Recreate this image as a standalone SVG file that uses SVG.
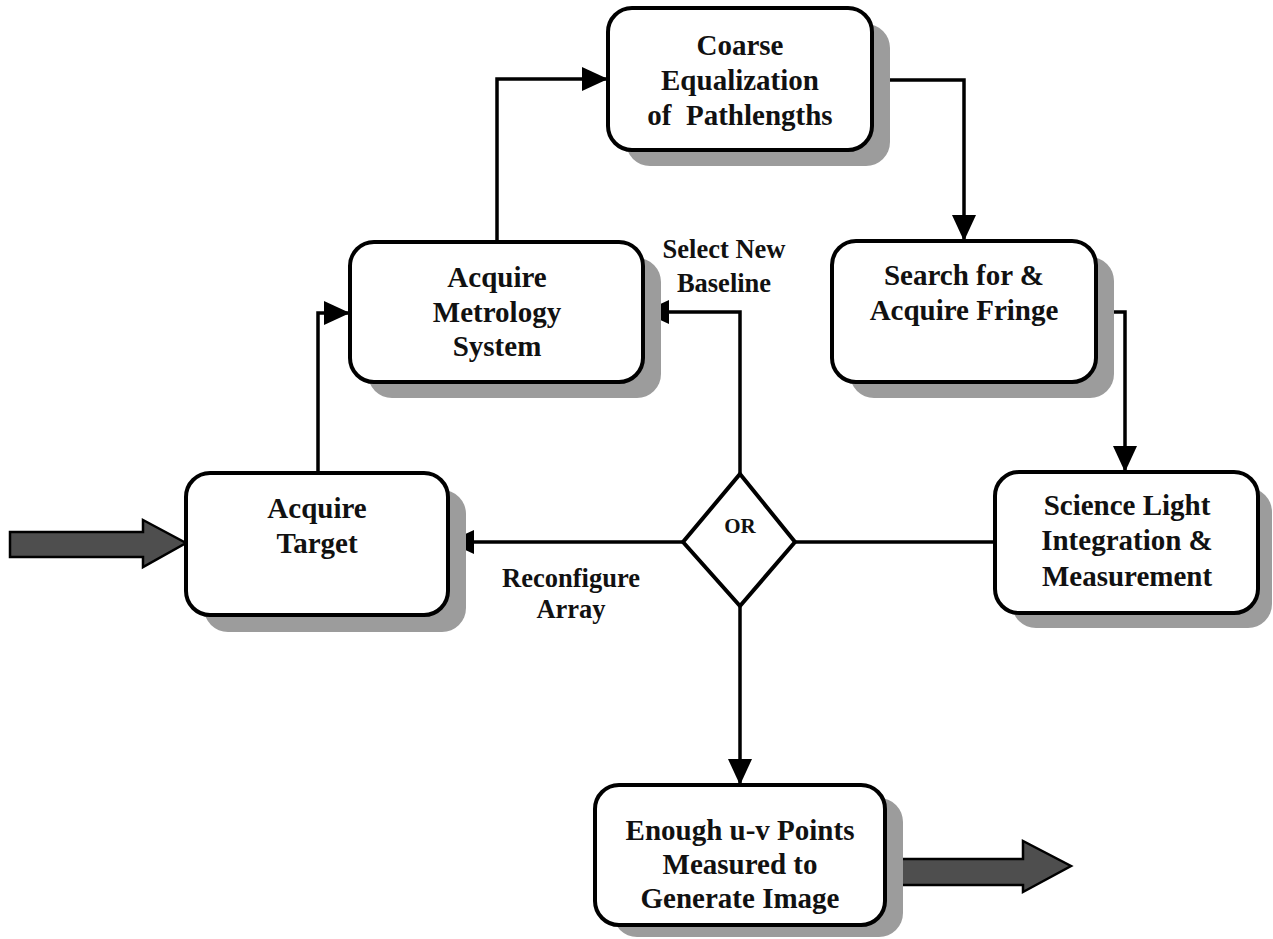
<svg xmlns="http://www.w3.org/2000/svg" width="1273" height="939" viewBox="0 0 1273 939">
  <style>
    .shadow { fill: #9c9c9c; }
    .box { fill: #ffffff; stroke: #000000; stroke-width: 4; }
    .wire { fill: none; stroke: #000000; stroke-width: 3.5; }
    .fat { fill: #4e4e4e; stroke: #000000; stroke-width: 2.5; stroke-linejoin: miter; }
    text { font-family: "Liberation Serif", "Times New Roman", serif; font-weight: bold; fill: #111111; text-anchor: middle; }
    .t { font-size: 29px; }
    .lbl { font-size: 26.5px; }
    .or { font-size: 21px; }
  </style>
  <defs>
    <marker id="head" viewBox="0 0 26 24" refX="26" refY="12" markerWidth="26" markerHeight="24" markerUnits="userSpaceOnUse" orient="auto">
      <path d="M0,0 L26,12 L0,24 Z" fill="#000000"/>
    </marker>
  </defs>

  <!-- connectors -->
  <g id="connectors">
    <!-- in / out block arrows -->
    <path class="fat" d="M10,532 L143,532 L143,520 L186,543 L143,567 L143,557 L10,557 Z"/>
    <path class="fat" d="M892,859 L1023,859 L1023,841 L1071,866 L1023,892 L1023,885 L892,885 Z"/>
    <!-- Acquire Target -> Metrology -->
    <path class="wire" d="M318,473 L318,313 L350,313" marker-end="url(#head)"/>
    <!-- Metrology -> Coarse -->
    <path class="wire" d="M497,242 L497,79 L608,79" marker-end="url(#head)"/>
    <!-- Coarse -> Search -->
    <path class="wire" d="M872,80 L964,80 L964,241" marker-end="url(#head)"/>
    <!-- Search -> Science -->
    <path class="wire" d="M1096,312 L1125,312 L1125,472" marker-end="url(#head)"/>
    <!-- Science -> OR -->
    <path class="wire" d="M995,542 L795,542"/>
    <!-- OR -> Target -->
    <path class="wire" d="M683,542 L448,542" marker-end="url(#head)"/>
    <!-- OR -> Metrology -->
    <path class="wire" d="M740,474 L740,312 L643,312" marker-end="url(#head)"/>
    <!-- OR -> Enough -->
    <path class="wire" d="M740,606 L740,785" marker-end="url(#head)"/>
    <text class="lbl" x="724" y="258">Select New</text>
    <text class="lbl" x="724" y="292">Baseline</text>
    <text class="lbl" x="571" y="587">Reconfigure</text>
    <text class="lbl" x="571" y="618">Array</text>
  </g>

  <g id="coarse">
    <rect class="shadow" x="626" y="24" width="264" height="142" rx="24"/>
    <rect class="box" x="608" y="8" width="264" height="142" rx="24"/>
    <text class="t" x="740" y="55">Coarse</text>
    <text class="t" x="740" y="90">Equalization</text>
    <text class="t" x="740" y="125" xml:space="preserve">of  Pathlengths</text>
  </g>

  <g id="metrology">
    <rect class="shadow" x="368" y="258" width="293" height="140" rx="24"/>
    <rect class="box" x="350" y="242" width="293" height="140" rx="24"/>
    <text class="t" x="497" y="287">Acquire</text>
    <text class="t" x="497" y="322">Metrology</text>
    <text class="t" x="497" y="356">System</text>
  </g>

  <g id="search">
    <rect class="shadow" x="850" y="257" width="264" height="141" rx="24"/>
    <rect class="box" x="832" y="241" width="264" height="141" rx="24"/>
    <text class="t" x="964" y="285">Search for &amp;</text>
    <text class="t" x="964" y="320">Acquire Fringe</text>
  </g>

  <g id="target">
    <rect class="shadow" x="204" y="490" width="262" height="142" rx="24"/>
    <rect class="box" x="186" y="473" width="262" height="142" rx="24"/>
    <text class="t" x="317" y="518">Acquire</text>
    <text class="t" x="317" y="553">Target</text>
  </g>

  <g id="science">
    <rect class="shadow" x="1012" y="488" width="260" height="140" rx="24"/>
    <rect class="box" x="995" y="472" width="263" height="141" rx="24"/>
    <text class="t" x="1127" y="515">Science Light</text>
    <text class="t" x="1127" y="550">Integration &amp;</text>
    <text class="t" x="1127" y="586">Measurement</text>
  </g>

  <g id="or">
    <path class="box" d="M740,474 L795,542 L740,606 L683,542 Z"/>
    <text class="or" x="740" y="533">OR</text>
  </g>

  <g id="enough">
    <rect class="shadow" x="613" y="798" width="290" height="139" rx="24"/>
    <rect class="box" x="595" y="785" width="290" height="140" rx="24"/>
    <text class="t" x="740" y="840">Enough u-v Points</text>
    <text class="t" x="740" y="874">Measured to</text>
    <text class="t" x="740" y="908">Generate Image</text>
  </g>
</svg>
